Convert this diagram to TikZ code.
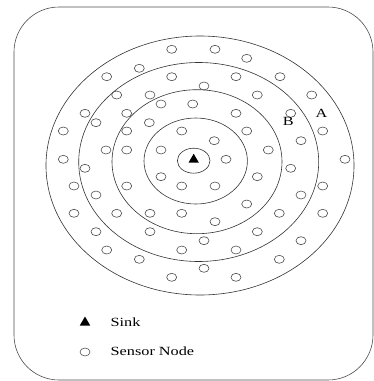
\documentclass[tikz,border=0pt]{standalone}
\usepackage{fontspec}
\setmainfont{Liberation Serif}
\usetikzlibrary{positioning,shapes.geometric}

\begin{document}
\begin{tikzpicture}[x=1pt, y=-1pt, line width=0.6pt,
  sensor/.style={draw=black!70, ellipse, minimum width=10pt, minimum height=8pt, inner sep=0pt},
  sinkmark/.style={regular polygon, regular polygon sides=3, fill=black, minimum size=12pt, inner sep=0pt},
  ring/.style={draw=black!80},
  lbl/.style={font=\fontsize{12.5}{14}\selectfont, inner sep=1pt, xscale=1.3}]
  \useasboundingbox (0,0) rectangle (374,381);
  \draw[black!70, rounded corners=45pt] (14,7) rectangle (373,380);

  \draw[ring] (200,165.5) ellipse [x radius=154pt, y radius=129.5pt];
  \draw[ring] (198.7,162) ellipse [x radius=120pt, y radius=99.5pt];
  \draw[ring] (197,161.7) ellipse [x radius=85pt, y radius=72pt];
  \draw[ring] (195.7,161) ellipse [x radius=51.7pt, y radius=43pt];
  \draw[ring] (193.7,160.7) ellipse [x radius=16.3pt, y radius=12.5pt];

  \node[sinkmark] (sink) at (193.7,159.7) {};

  \foreach \pos [count=\i] in {(171.7,49.3),(215,49.3),(246.7,58.3),(139.3,68.3),
    (106.7,76.7),(171.7,76.7),(236,76.7),(280,76.7),(204,86),
    (116.7,95),(150,95),(257.3,95),(311.7,95),(161,104),(192.7,104),
    (85,113.3),(126.7,113.3),(236,113.3),(290.7,113.3),(96,122.7),(149.3,122.7),
    (63.3,131),(126.7,131),(181.7,131),(246.7,131),(322.7,131),(214.3,140.7),(301,140.7),
    (106,150),(126.7,150),(161,150),(268.3,150),(63.3,159.3),(226,159.3),(345,159.3),
    (85,168.3),(290.7,168.3),(161,176.7),(257.3,176.7),
    (74,186),(126.7,186),(181.7,186),(215,186),(322.7,186),(96,195),(301,195),(246.7,204),
    (74,213.3),(116.7,213.3),(150,213.3),(181.7,213.3),(279.3,213.3),(322.7,213.3),(215,221.7),
    (96,231.7),(150,231.7),(257.3,231.7),(204,240.7),(301,240.7),
    (106.7,250),(181.7,250),(236,250),(139.3,259.3),(279.3,259.3),(204,268.3),
    (171.7,277.3),(236,277.3)}
    \node[sensor] (s\i) at \pos {};

  \node[lbl] (ringA) at (321.5,113) {A};
  \node[lbl] (ringB) at (288.3,121.7) {B};

  \node[sinkmark] (legsink) at (85,322.5) {};
  \node[sensor] (legsensor) at (85,352) {};
  \node[lbl, anchor=west] (sinktext) at (109,322) {Sink};
  \node[lbl, anchor=west] (sensortext) at (109,351.5) {Sensor Node};
\end{tikzpicture}
\end{document}
